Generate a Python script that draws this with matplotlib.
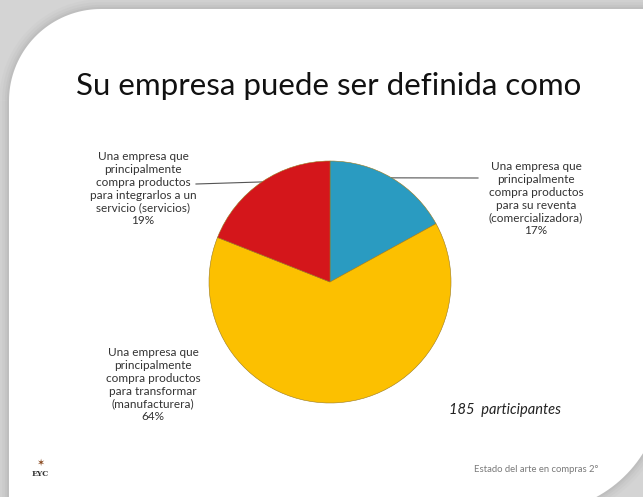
import numpy as np
import matplotlib
matplotlib.use("Agg")
import matplotlib.pyplot as plt
from matplotlib.path import Path
from matplotlib.patches import PathPatch

# data
categories = [
    "Una empresa que\nprincipalmente\ncompra productos\npara su reventa\n(comercializadora)",
    "Una empresa que\nprincipalmente\ncompra productos\npara transformar\n(manufacturera)",
    "Una empresa que\nprincipalmente\ncompra productos\npara integrarlos a un\nservicio (servicios)",
]
shares = [17, 64, 19]
colors = ["#2a9bc1", "#fcc000", "#d4161b"]
title = "Su empresa puede ser definida como"
note = "185  participantes"
footer = "Estado del arte en compras 2°"

W, H = 643, 497
plt.rcParams['font.family'] = ['Lato', 'DejaVu Sans']
fig = plt.figure(figsize=(W / 100, H / 100), dpi=100)
fig.patch.set_facecolor("#d4d4d4")

# full-figure axes in pixel coords (y down) for the slide decoration
bg = fig.add_axes([0, 0, 1, 1])
bg.set_xlim(0, W)
bg.set_ylim(H, 0)
bg.axis("off")

def slide_shape(x0, y0, x1, y1, r1, r2):
    # white slide: big round top-left corner and bottom-right corner
    pts = []
    t = np.linspace(np.pi, 1.5 * np.pi, 40)
    pts += list(zip(x0 + r1 + r1 * np.cos(t), y0 + r1 + r1 * np.sin(t)))
    pts.append((x1, y0))
    t = np.linspace(0, 0.5 * np.pi, 40)
    pts += list(zip(x1 - r2 + r2 * np.cos(t), y1 - r2 + r2 * np.sin(t)))
    pts.append((x0, y1))
    pts.append(pts[0])
    return Path(pts, closed=True)

shape = slide_shape(9, 9, 662, 512, 92, 125)
# soft shadow
for k, a in [(14, 0.04), (10, 0.05), (6, 0.07), (3, 0.09)]:
    bg.add_patch(PathPatch(shape, facecolor="none", edgecolor="#808080",
                           lw=k, alpha=a, zorder=1))
bg.add_patch(PathPatch(shape, facecolor="white", edgecolor="none", zorder=2))

bg.text(329, 86, title, fontsize=22.5, ha="center", va="center", color="#111111", zorder=5)
bg.text(505, 410, note, fontsize=10.5, style="italic", ha="center", va="center",
        color="#222222", zorder=5)
bg.text(536, 470, footer, fontsize=6.8, ha="center", va="center", color="#7a7a7a", zorder=5)
bg.text(40, 463, "✶", fontsize=7, ha="center", va="center", color="#8a4a20",
        family=["DejaVu Sans"], zorder=5)
bg.text(40, 474, "EYC", fontsize=5.5, ha="center", va="center", color="#333333",
        family=["DejaVu Serif"], weight="bold", zorder=5)

# pie axes: centre (330, 282), radius 121 px
cx, cy, R = 330, 282, 121
pie_ax = fig.add_axes([(cx - R) / W, 1 - (cy + R) / H, 2 * R / W, 2 * R / H])
wedges, _ = pie_ax.pie(shares, colors=colors, startangle=90, counterclock=False,
                       wedgeprops=dict(edgecolor="#9a7a20", linewidth=0.4))
pie_ax.set_xlim(-1, 1)
pie_ax.set_ylim(-1, 1)
pie_ax.set_zorder(3)
pie_ax.patch.set_visible(False)

labels = [f"{c}\n{s}%" for c, s in zip(categories, shares)]
label_pos = [(536, 199), (153, 385), (143, 189)]
leader_end = [(478, 178), None, (196, 184)]

for w, lab, pos, end in zip(wedges, labels, label_pos, leader_end):
    bg.text(pos[0], pos[1], lab, fontsize=8.5, ha="center", va="center",
            linespacing=1.2, color="#333333", zorder=5)
    if end is not None:
        mid = np.deg2rad((w.theta1 + w.theta2) / 2)
        px, py = cx + R * np.cos(mid), cy - R * np.sin(mid)
        bg.plot([px, end[0]], [py, end[1]], color="#555555", lw=0.8, zorder=4)

fig.savefig("out.png", dpi=100)
